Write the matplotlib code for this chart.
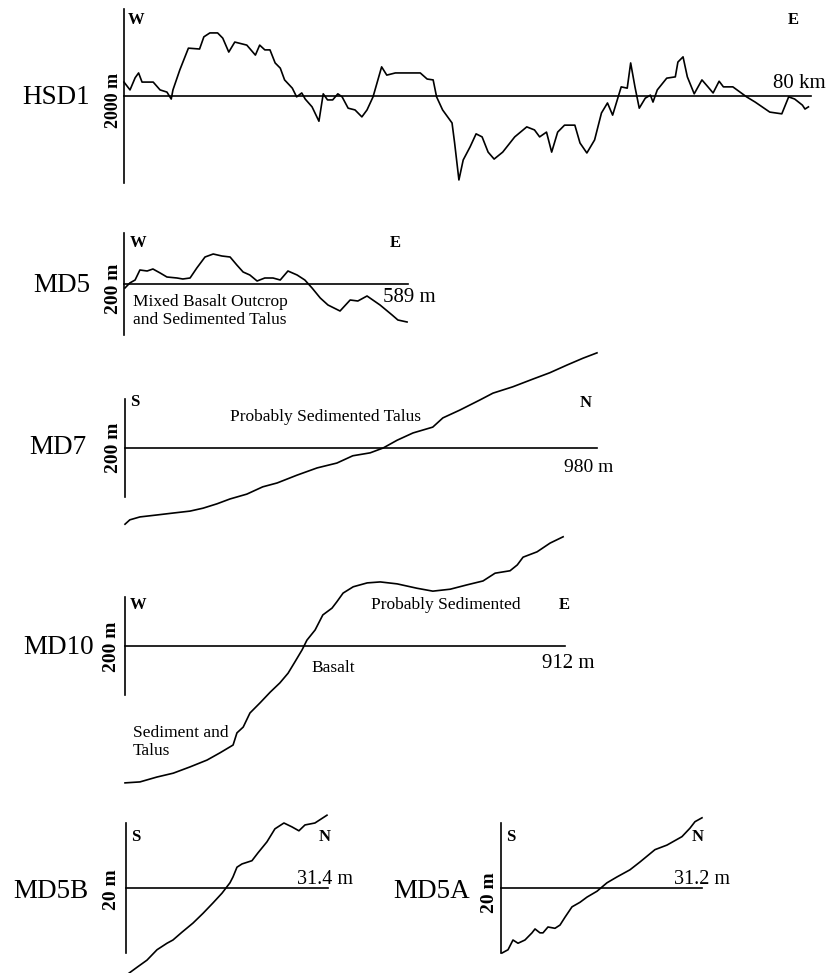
import matplotlib
matplotlib.use('Agg')
import matplotlib.pyplot as plt

plt.rcParams['font.family'] = ['Liberation Serif', 'DejaVu Serif']

# ==================== profile data ====================
# HSD1: distance (km), relief about the mean line (m)
hsd1_km = [0.0, 0.7, 1.3, 1.7, 2.1, 2.7, 3.4, 4.2, 5.0, 5.5, 5.7, 6.5, 7.5, 8.8, 9.3,
           10.0, 10.9, 11.5, 12.2, 12.9, 14.3, 15.3, 15.8, 16.4, 17.0, 17.6, 18.2,
           18.7, 19.6, 20.1, 20.7, 21.1, 21.9, 22.7, 23.2, 23.7, 24.3, 24.9, 25.4,
           26.1, 26.9, 27.7, 28.3, 29.0, 30.0, 30.6, 31.6, 34.5, 35.3, 36.0, 36.4,
           37.1, 38.2, 38.5, 39.0, 39.5, 40.3, 41.0, 41.7, 42.4, 43.1, 44.1, 45.5,
           46.9, 47.8, 48.4, 49.2, 49.8, 50.5, 51.3, 52.5, 53.1, 53.9, 54.8, 55.6,
           56.3, 56.9, 57.9, 58.6, 59.0, 59.5, 60.0, 60.7, 61.3, 61.6, 62.1, 63.2,
           64.2, 64.5, 65.1, 65.6, 66.4, 67.3, 68.0, 68.6, 69.3, 69.8, 70.9, 72.5,
           73.5, 75.2, 76.6, 77.4, 78.1, 79.0, 79.3, 79.7]
hsd1_m = [160, 70, 210, 265, 160, 160, 160, 70, 45, -35, 70, 300, 550, 540, 680,
          725, 725, 665, 505, 620, 585, 470, 585, 530, 530, 380, 320,
          185, 90, -10, 35, -35, -125, -290, 25, -45, -45, 25, -10,
          -140, -160, -240, -160, -10, 335, 240, 265, 265, 195, 185, -10,
          -160, -310, -540, -965, -735, -585, -435, -470, -645, -725, -645, -470,
          -355, -390, -470, -415, -645, -415, -335, -335, -540, -655, -505, -195,
          -80, -220, 105, 90, 380, 105, -140, -25, 10, -70, 70, 205,
          220, 390, 450, 220, 25, 185, 105, 35, 170, 105, 105, -10,
          -70, -185, -205, -10, -35, -105, -150, -125]

# MD5: distance (m), relief (m)
md5_x = [2, 12, 23, 33, 48, 60, 75, 89, 110, 122, 137, 151, 168, 185, 203, 220,
         234, 247, 261, 276, 292, 309, 324, 340, 359, 375, 390, 407, 423, 448,
         469, 485, 504, 531, 556, 568, 587]
md5_z = [-8, 2, 8, 28, 26, 30, 22, 14, 12, 10, 12, 32, 54, 60, 56, 54,
         38, 24, 18, 6, 12, 12, 8, 26, 18, 8, -8, -28, -42, -54,
         -32, -34, -24, -42, -62, -72, -76]

# MD7
md7_x = [0, 10, 31, 66, 100, 135, 162, 191, 218, 253, 286, 316, 357, 399, 440,
         473, 509, 536, 565, 598, 639, 660, 695, 737, 764, 805, 847, 882, 918,
         951, 980]
md7_z = [-157, -148, -142, -138, -134, -130, -124, -115, -105, -95, -80, -72, -56,
         -41, -31, -16, -10, 0, 16, 31, 43, 62, 78, 99, 113, 126, 142, 155, 171,
         185, 196]

# MD10
md10_x = [0, 31, 66, 100, 135, 170, 197, 224, 232, 245, 259, 280, 301, 321, 338,
          352, 367, 377, 394, 410, 429, 439, 452, 473, 502, 529, 564, 605, 638,
          674, 709, 742, 767, 798, 813, 825, 854, 881, 908]
md10_z = [-282, -280, -270, -262, -249, -235, -220, -204, -179, -167, -138, -117,
          -95, -76, -56, -33, -8, 12, 33, 64, 78, 91, 109, 122, 130, 132, 128,
          119, 113, 117, 126, 134, 150, 155, 167, 183, 194, 212, 225]

# MD5B
md5b_x = [0.47, 1.71, 3.26, 4.82, 6.37, 7.30, 8.70, 10.41, 11.97, 13.52, 14.92,
          16.16, 16.63, 17.25, 18.03, 19.58, 20.51, 21.91, 23.15, 24.55, 25.80,
          26.88, 27.82, 29.37, 30.15, 31.24]
md5b_z = [-13.1, -12.2, -11.1, -9.5, -8.5, -8.0, -6.8, -5.4, -3.9, -2.3, -0.8,
          0.8, 1.7, 3.2, 3.7, 4.2, 5.4, 7.1, 9.1, 10.0, 9.4, 8.8, 9.7, 10.0,
          10.5, 11.2]

# MD5A
md5a_x = [0.16, 1.09, 1.86, 2.64, 3.72, 4.81, 5.28, 6.05, 6.52, 7.29, 8.38, 9.16,
          9.93, 11.02, 12.26, 13.35, 14.90, 16.45, 18.00, 20.02, 21.57, 23.90,
          25.76, 28.09, 29.33, 30.11, 31.20]
md5a_z = [-10.0, -9.5, -8.0, -8.5, -8.0, -6.9, -6.3, -6.9, -6.9, -6.0, -6.2, -5.7,
          -4.5, -2.9, -2.2, -1.4, -0.5, 0.8, 1.7, 2.8, 4.0, 5.9,
          6.6, 7.9, 9.2, 10.2, 10.8]

# ==================== drawing ====================
W, H = 826, 973
fig = plt.figure(figsize=(W / 100, H / 100), dpi=100)
LW = 1.2


def label(x, y, s, **kw):
    # place text using pixel position from the top left
    fig.text(x / W, 1 - y / H, s, **kw)


def profile(x0, y0, sx, sy, dist, elev, length, bar):
    # x0, y0 : pixel position of the origin; sx, sy : pixels per data unit
    ax = fig.add_axes([0, 0, 1, 1])
    ax.set_xlim(-x0 / sx, (W - x0) / sx)
    ax.set_ylim((y0 - H) / sy, y0 / sy)
    ax.axis('off')
    ax.plot([0, length], [0, 0], color='black', lw=LW)
    ax.plot([0, 0], [-bar[0], bar[1]], color='black', lw=LW)
    ax.plot(dist, elev, color='black', lw=LW)
    return ax


big = dict(fontsize=19.5, va='center')
scl = dict(fontsize=14, fontweight='bold', rotation=90, ha='center', va='center')
dirn = dict(fontsize=12, fontweight='bold', va='center')
note = dict(fontsize=12.5, va='center')

# HSD1
profile(124, 96, 8.5875, 0.087, hsd1_km, hsd1_m, 80, (1000, 1000))
label(22, 98, 'HSD1', ha='left', **big)
label(113, 100, '2000 m', **{**scl, 'fontsize': 13})
label(128, 20, 'W', ha='left', **dirn)
label(793, 20, 'E', ha='center', **dirn)
label(799, 83, '80 km', ha='center', va='center', fontsize=15)

# MD5
profile(124, 284, 0.4822, 0.5, md5_x, md5_z, 589, (102, 102))
label(33, 285, 'MD5', ha='left', **big)
label(113, 289, '200 m', **scl)
label(130, 243, 'W', ha='left', **dirn)
label(395, 243, 'E', ha='center', **dirn)
label(383, 297, '589 m', ha='left', va='center', fontsize=15)
label(133, 302, 'Mixed Basalt Outcrop', ha='left', **note)
label(133, 320, 'and Sedimented Talus', ha='left', **note)

# MD7
profile(125, 448, 0.4816, 0.4854, md7_x, md7_z, 980, (100, 100))
label(29, 448, 'MD7', ha='left', **big)
label(113, 448, '200 m', **scl)
label(130, 402, 'S', ha='left', **dirn)
label(586, 403, 'N', ha='center', **dirn)
label(325, 417, 'Probably Sedimented Talus', ha='center', **note)
label(589, 467, '980 m', ha='center', va='center', fontsize=14)

# MD10
profile(125, 646, 0.4825, 0.4854, md10_x, md10_z, 912, (100, 100))
label(23, 647, 'MD10', ha='left', **big)
label(112, 647, '200 m', **scl)
label(130, 605, 'W', ha='left', **dirn)
label(564, 605, 'E', ha='center', **dirn)
label(446, 605, 'Probably Sedimented', ha='center', **note)
label(568, 663, '912 m', ha='center', va='center', fontsize=15)
label(311, 668, 'Basalt', ha='left', **note)
label(133, 733, 'Sediment and', ha='left', **note)
label(133, 751, 'Talus', ha='left', **note)

# MD5B
profile(126, 888, 6.433, 6.5, md5b_x, md5b_z, 31.4, (10, 10))
label(13, 892, 'MD5B', ha='left', **big)
label(112, 890, '20 m', **scl)
label(131, 837, 'S', ha='left', **dirn)
label(325, 837, 'N', ha='center', **dirn)
label(325, 879, '31.4 m', ha='center', va='center', fontsize=14.5)

# MD5A
profile(501, 888, 6.442, 6.5, md5a_x, md5a_z, 31.2, (10, 10))
label(470, 892, 'MD5A', ha='right', **big)
label(490, 893, '20 m', **scl)
label(506, 837, 'S', ha='left', **dirn)
label(698, 837, 'N', ha='center', **dirn)
label(702, 879, '31.2 m', ha='center', va='center', fontsize=14.5)

fig.savefig('out.png', dpi=100)
